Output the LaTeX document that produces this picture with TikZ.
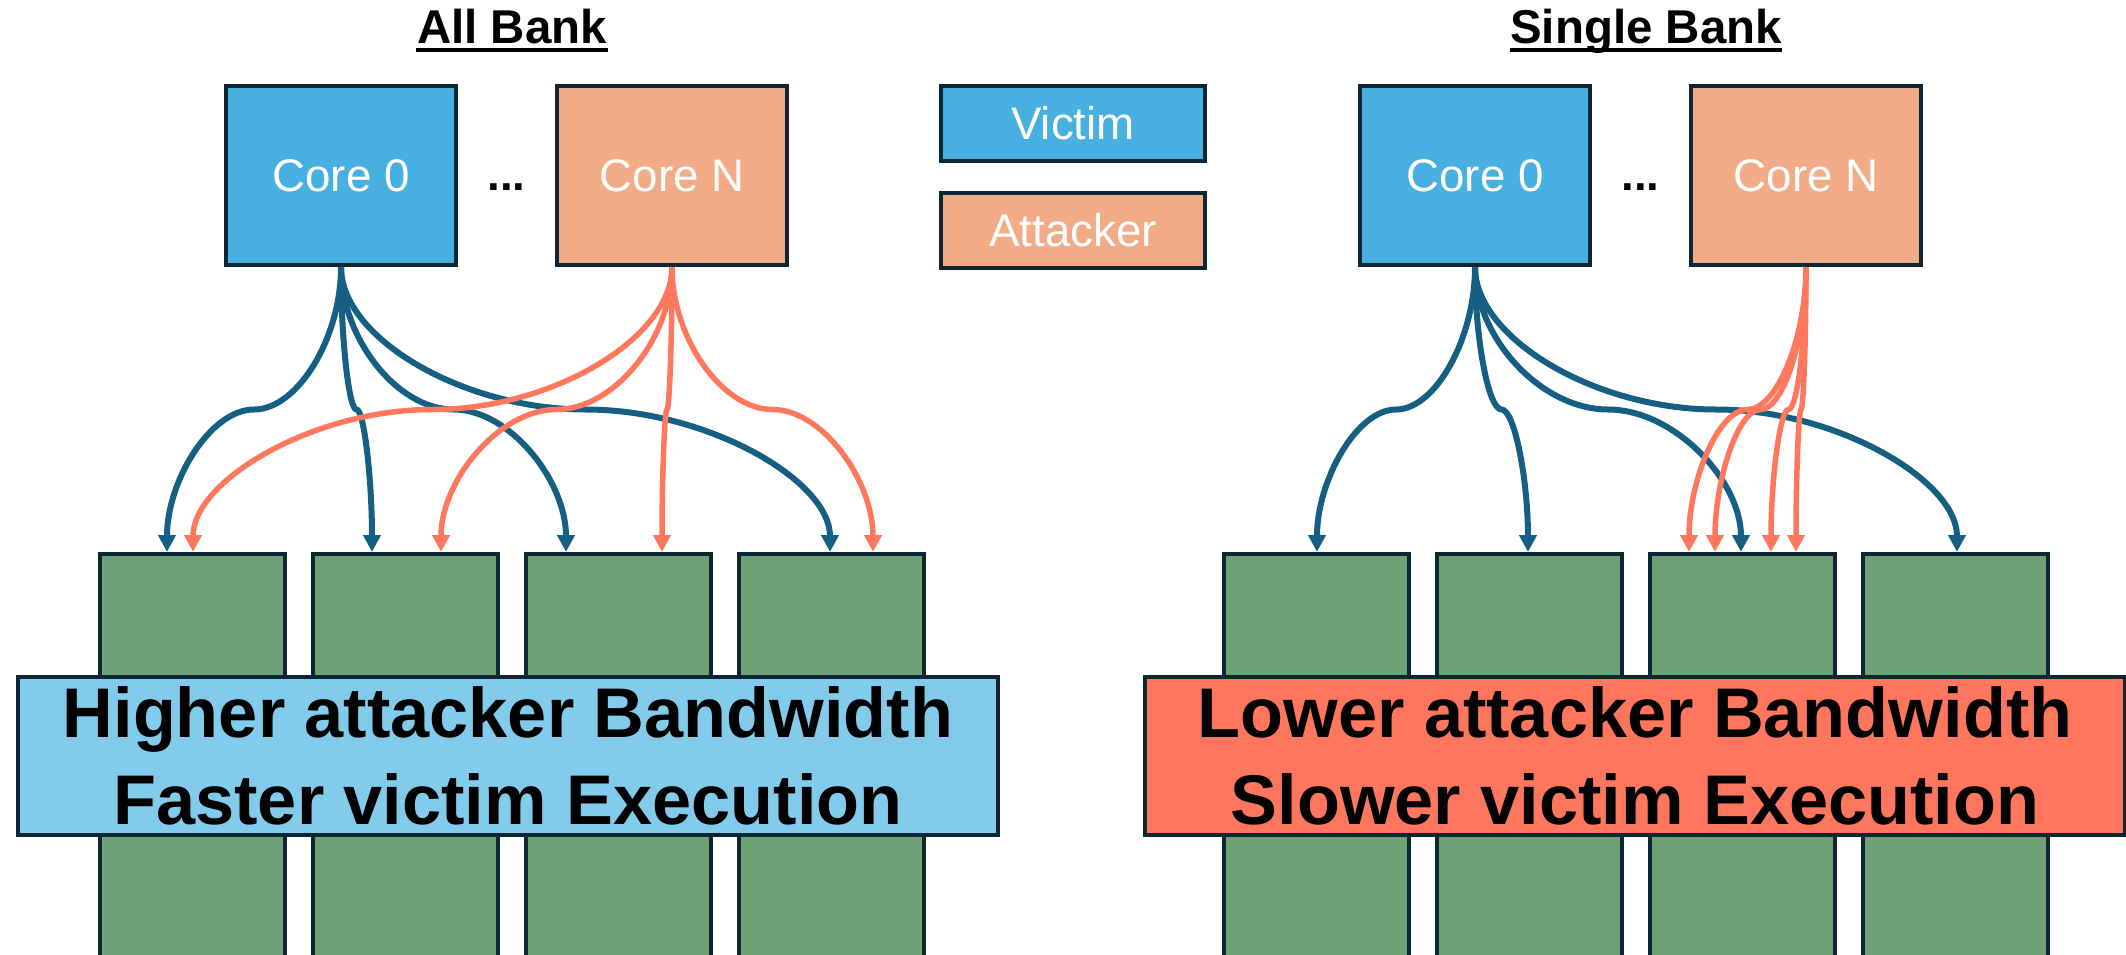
\documentclass[tikz,border=0pt]{standalone}
\usepackage{fontspec}
\setmainfont{Liberation Sans}
\usetikzlibrary{arrows.meta,positioning,calc}
\definecolor{victimblue}{RGB}{71,176,224}
\definecolor{attackpeach}{RGB}{241,171,134}
\definecolor{edgenavy}{RGB}{12,38,52}
\definecolor{bankgreen}{RGB}{110,162,118}
\definecolor{fastblue}{RGB}{131,203,235}
\definecolor{slowred}{RGB}{255,118,94}
\definecolor{vicline}{RGB}{21,96,130}
\definecolor{attline}{RGB}{255,120,94}

\tikzset{
	core/.style={draw=edgenavy, line width=0.04cm, minimum width=2.30cm, minimum height=1.79cm, text=white, font=\fontsize{13}{15}\selectfont},
	legendbox/.style={draw=edgenavy, line width=0.04cm, minimum width=2.64cm, minimum height=0.75cm, text=white, font=\fontsize{13}{15}\selectfont},
	bank/.style={draw=edgenavy, fill=bankgreen, line width=0.04cm, minimum width=1.85cm, minimum height=4.3cm},
	banner/.style={draw=edgenavy, line width=0.04cm, minimum width=9.80cm, minimum height=1.58cm, inner sep=0pt, align=center, font=\bfseries\fontsize{20}{24.7}\selectfont},
	heading/.style={anchor=base, inner sep=0pt, font=\bfseries\fontsize{13.5}{16}\selectfont},
	dots/.style={anchor=base, inner sep=0pt, font=\bfseries\fontsize{13}{15}\selectfont},
	bend link/.style={to path={
		let \p1=(\tikztostart), \p2=(\tikztotarget), \p3=($(\tikztostart)!0.5!(\tikztotarget)$) in
		.. controls (\x1,{0.5*\y1+0.5*\y3}) and ({0.75*\x1+0.25*\x2},\y3) .. (\p3)
		.. controls ({0.25*\x1+0.75*\x2},\y3) and (\x2,{0.5*\y3+0.5*\y2}) .. (\p2)}},
	vicarrow/.style={draw=vicline, line width=0.06cm, -{Triangle[length=0.17cm, width=0.17cm]}, bend link},
	attarrow/.style={draw=attline, line width=0.055cm, -{Triangle[length=0.17cm, width=0.17cm]}, bend link}
}

\begin{document}
\begin{tikzpicture}
	\useasboundingbox (0,0) rectangle (21.26,-9.55);

	% all bank side
	\node[heading] (ttlAll) at (5.12,-0.43) {All Bank};
	\draw[line width=0.035cm] ([yshift=-0.07cm]ttlAll.base west) -- ([yshift=-0.07cm]ttlAll.base east);

	\node[core, fill=victimblue] (c0L) at (3.41,-1.755) {Core 0};
	\node[core, fill=attackpeach, right=0.97cm of c0L] (cNL) {Core N};
	\node[dots] (dotsL) at ($(c0L.east)!0.5!(cNL.west)+(0,-0.145)$) {...};

	\node[bank, anchor=north west] (bL1) at (0.98,-5.52) {};
	\node[bank, right=0.24cm of bL1] (bL2) {};
	\node[bank, right=0.24cm of bL2] (bL3) {};
	\node[bank, right=0.24cm of bL3] (bL4) {};

	\coordinate (vL1) at (1.67,-5.52);
	\coordinate (vL2) at (3.72,-5.52);
	\coordinate (vL3) at (5.66,-5.52);
	\coordinate (vL4) at (8.30,-5.52);
	\coordinate (aL1) at (1.93,-5.52);
	\coordinate (aL2) at (4.41,-5.52);
	\coordinate (aL3) at (6.62,-5.52);
	\coordinate (aL4) at (8.73,-5.52);

	\draw[vicarrow] (c0L.south) to (vL1);
	\draw[vicarrow] (c0L.south) to (vL2);
	\draw[vicarrow] (c0L.south) to (vL3);
	\draw[vicarrow] (c0L.south) to (vL4);
	\draw[attarrow] (cNL.south) to (aL1);
	\draw[attarrow] (cNL.south) to (aL2);
	\draw[attarrow] (cNL.south) to (aL3);
	\draw[attarrow] (cNL.south) to (aL4);

	\node[banner, fill=fastblue] (fastNote) at (5.08,-7.56) {Higher attacker Bandwidth\\Faster victim Execution};

	% legend
	\node[legendbox, fill=victimblue] (vicKey) at (10.73,-1.23) {Victim};
	\node[legendbox, fill=attackpeach, below=0.28cm of vicKey] (attKey) {Attacker};

	% single bank side
	\node[heading] (ttlSingle) at (16.46,-0.43) {Single Bank};
	\draw[line width=0.035cm] ([yshift=-0.07cm]ttlSingle.base west) -- ([yshift=-0.07cm]ttlSingle.base east);

	\node[core, fill=victimblue] (c0R) at (14.75,-1.755) {Core 0};
	\node[core, fill=attackpeach, right=0.97cm of c0R] (cNR) {Core N};
	\node[dots] (dotsR) at ($(c0R.east)!0.5!(cNR.west)+(0,-0.145)$) {...};

	\node[bank, anchor=north west] (bR1) at (12.22,-5.52) {};
	\node[bank, right=0.24cm of bR1] (bR2) {};
	\node[bank, right=0.24cm of bR2] (bR3) {};
	\node[bank, right=0.24cm of bR3] (bR4) {};

	\coordinate (vR1) at (13.17,-5.52);
	\coordinate (vR2) at (15.28,-5.52);
	\coordinate (vR3) at (17.41,-5.52);
	\coordinate (vR4) at (19.57,-5.52);
	\coordinate (aR1) at (16.89,-5.52);
	\coordinate (aR2) at (17.15,-5.52);
	\coordinate (aR3) at (17.71,-5.52);
	\coordinate (aR4) at (17.96,-5.52);

	\draw[vicarrow] (c0R.south) to (vR1);
	\draw[vicarrow] (c0R.south) to (vR2);
	\draw[vicarrow] (c0R.south) to (vR3);
	\draw[vicarrow] (c0R.south) to (vR4);
	\draw[attarrow] (cNR.south) to (aR1);
	\draw[attarrow] (cNR.south) to (aR2);
	\draw[attarrow] (cNR.south) to (aR3);
	\draw[attarrow] (cNR.south) to (aR4);

	\node[banner, fill=slowred] (slowNote) at (16.35,-7.56) {Lower attacker Bandwidth\\Slower victim Execution};
\end{tikzpicture}
\end{document}
